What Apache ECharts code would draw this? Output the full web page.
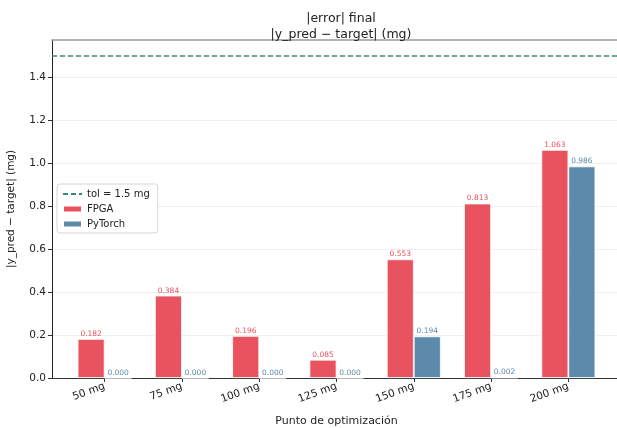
<!DOCTYPE html>
<html><head><meta charset="utf-8">
<script src="https://cdn.jsdelivr.net/npm/echarts@6/dist/echarts.min.js"></script>
<style>html,body{margin:0;padding:0;background:#fff}#c{width:617px;height:428px}</style>
</head><body><div id="c"></div>
<script>
const categories = ['50 mg','75 mg','100 mg','125 mg','150 mg','175 mg','200 mg'];
const fpga = [0.182, 0.384, 0.196, 0.085, 0.553, 0.813, 1.063];
const pytorch = [0.000, 0.000, 0.000, 0.000, 0.194, 0.002, 0.986];
const tol = 1.5;
const yTicks = [0.0, 0.2, 0.4, 0.6, 0.8, 1.0, 1.2, 1.4];

const XMIN = -0.681, XMAX = 6.681;
const RED = '#e9535f', BLUE = '#5b8aaa', GREEN = '#3e8a68';
const FONT = 'DejaVu Sans';

const chart = echarts.init(document.getElementById('c'), null, {renderer: 'canvas'});
const idx = categories.map((_, i) => i);
function labelCfg(color) {
  return {show: true, position: 'top', distance: 1, color: color, fontSize: 7.5, fontFamily: FONT,
          formatter: p => p.value[1].toFixed(3)};
}
chart.setOption({
  animation: false,
  textStyle: {fontFamily: FONT},
  title: {
    text: '|error| final\n|y_pred − target| (mg)',
    left: 336, top: 6, textAlign: 'center',
    textStyle: {fontSize: 12.5, fontWeight: 'normal', color: '#222', lineHeight: 16, fontFamily: FONT}
  },
  grid: {left: 52, width: 569, top: 40, height: 338, show: false, containLabel: false, outerBoundsMode: 'none'},
  legend: {
    orient: 'vertical', left: 57, top: 184,
    data: [{name: 'tol = 1.5 mg', itemStyle: {opacity: 0}}, {name: 'FPGA', icon: 'rect'}, {name: 'PyTorch', icon: 'rect'}],
    itemWidth: 19, itemHeight: 7, itemGap: 5,
    borderColor: '#d6d6d6', borderWidth: 1, borderRadius: 3,
    padding: [5, 8, 4, 5], backgroundColor: 'rgba(255,255,255,0.85)',
    textStyle: {fontSize: 10, color: '#222', fontFamily: FONT}
  },
  xAxis: [{
    type: 'value', min: XMIN, max: XMAX,
    name: 'Punto de optimización', nameLocation: 'middle', nameGap: 38,
    nameTextStyle: {fontSize: 11, color: '#222', fontFamily: FONT},
    axisLine: {show: true, onZero: false, lineStyle: {color: '#333', width: 1}},
    axisTick: {show: true, customValues: idx, length: 4, lineStyle: {color: '#333'}},
    axisLabel: {customValues: idx, rotate: 20, fontSize: 10.5, color: '#222', margin: 8,
                formatter: v => categories[Math.round(v)]},
    splitLine: {show: false}
  }, {
    type: 'value', position: 'top', min: XMIN, max: XMAX,
    axisLine: {show: true, onZero: false, lineStyle: {color: '#999', width: 1.5}},
    axisTick: {show: false}, axisLabel: {show: false}, splitLine: {show: false}
  }],
  yAxis: {
    type: 'value', min: 0, max: 1.575, interval: 0.2,
    name: '|y_pred − target| (mg)', nameLocation: 'middle', nameGap: 35,
    nameTextStyle: {fontSize: 10.5, color: '#222', fontFamily: FONT},
    axisLine: {show: true, onZero: false, lineStyle: {color: '#222', width: 1}},
    axisTick: {show: true, customValues: yTicks, length: 4, lineStyle: {color: '#333'}},
    axisLabel: {customValues: yTicks, fontSize: 10.5, color: '#222', margin: 6, formatter: v => v.toFixed(1)},
    splitLine: {show: true, lineStyle: {color: '#ebebeb', width: 0.8}}
  },
  series: [
    {
      name: 'tol = 1.5 mg', type: 'line', symbol: 'none', z: 5,
      data: [[XMIN, tol], [XMAX, tol]],
      lineStyle: {color: GREEN, type: [5, 3], width: 1.5},
      itemStyle: {color: GREEN}
    },
    {
      name: 'FPGA', type: 'bar', barWidth: 27, barGap: '0%',
      data: fpga.map((v, i) => [i, v]),
      itemStyle: {color: RED, borderColor: '#fff', borderWidth: 0.8},
      label: labelCfg(RED)
    },
    {
      name: 'PyTorch', type: 'bar', barWidth: 27, barGap: '0%',
      data: pytorch.map((v, i) => [i, v]),
      itemStyle: {color: BLUE, borderColor: '#fff', borderWidth: 0.8},
      label: labelCfg(BLUE)
    }
  ]
});
</script></body></html>
